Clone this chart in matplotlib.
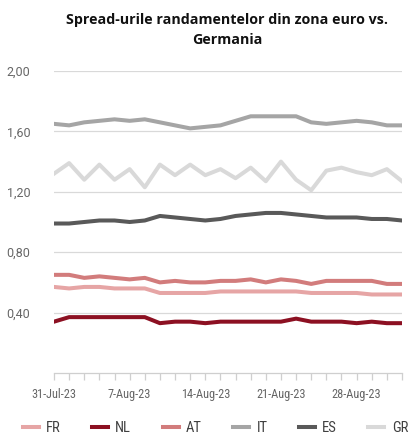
import matplotlib.pyplot as plt
import numpy as np

dates = ['31-Jul-23', '1-Aug-23', '2-Aug-23', '3-Aug-23', '4-Aug-23',
         '7-Aug-23', '8-Aug-23', '9-Aug-23', '10-Aug-23', '11-Aug-23',
         '14-Aug-23', '15-Aug-23', '16-Aug-23', '17-Aug-23', '18-Aug-23',
         '21-Aug-23', '22-Aug-23', '23-Aug-23', '24-Aug-23', '25-Aug-23',
         '28-Aug-23', '29-Aug-23', '30-Aug-23', '31-Aug-23']

fr = [0.57, 0.56, 0.57, 0.57, 0.56, 0.56, 0.56, 0.53, 0.53, 0.53, 0.53, 0.54,
      0.54, 0.54, 0.54, 0.54, 0.54, 0.53, 0.53, 0.53, 0.53, 0.52, 0.52, 0.52]
nl = [0.34, 0.37, 0.37, 0.37, 0.37, 0.37, 0.37, 0.33, 0.34, 0.34, 0.33, 0.34,
      0.34, 0.34, 0.34, 0.34, 0.36, 0.34, 0.34, 0.34, 0.33, 0.34, 0.33, 0.33]
at = [0.65, 0.65, 0.63, 0.64, 0.63, 0.62, 0.63, 0.60, 0.61, 0.60, 0.60, 0.61,
      0.61, 0.62, 0.60, 0.62, 0.61, 0.59, 0.61, 0.61, 0.61, 0.61, 0.59, 0.59]
it = [1.65, 1.64, 1.66, 1.67, 1.68, 1.67, 1.68, 1.66, 1.64, 1.62, 1.63, 1.64,
      1.67, 1.70, 1.70, 1.70, 1.70, 1.66, 1.65, 1.66, 1.67, 1.66, 1.64, 1.64]
es = [0.99, 0.99, 1.00, 1.01, 1.01, 1.00, 1.01, 1.04, 1.03, 1.02, 1.01, 1.02,
      1.04, 1.05, 1.06, 1.06, 1.05, 1.04, 1.03, 1.03, 1.03, 1.02, 1.02, 1.01]
gr = [1.32, 1.39, 1.28, 1.38, 1.28, 1.35, 1.23, 1.38, 1.31, 1.38, 1.31, 1.35,
      1.29, 1.36, 1.27, 1.40, 1.28, 1.21, 1.34, 1.36, 1.33, 1.31, 1.35, 1.27]

series = [('FR', fr, '#e6a5a5'), ('NL', nl, '#8c1022'), ('AT', at, '#d27c7c'),
          ('IT', it, '#a5a5a5'), ('ES', es, '#595959'), ('GR', gr, '#d9d9d9')]

narrow = ['Liberation Sans Narrow', 'Roboto Condensed', 'Roboto']

fig = plt.figure(figsize=(4.11, 4.36), dpi=100)
ax = fig.add_axes([54 / 411, 1 - 373 / 436, 348 / 411, 302 / 436])

x = np.arange(len(dates))
for name, vals, col in series:
    ax.plot(x, vals, color=col, lw=2.9, label=name, solid_joinstyle='round')

ax.set_xlim(0, len(dates) - 1)
ax.set_ylim(0, 2.0)
ax.set_yticks([0.4, 0.8, 1.2, 1.6, 2.0])
ax.set_yticklabels(['0,40', '0,80', '1,20', '1,60', '2,00'], family='Roboto')
ax.grid(axis='y', color='#d9d9d9', lw=0.9)
ax.set_axisbelow(True)
ax.tick_params(axis='y', length=0, pad=17, labelsize=9, labelcolor='#666666')

ax.set_xticks(x, minor=True)
ax.set_xticks(x[::5])
ax.set_xticklabels([dates[i] for i in x[::5]], family=narrow)
ax.tick_params(axis='x', which='both', length=5, color='#cfcfcf', width=0.9)
ax.tick_params(axis='x', labelsize=8.8, labelcolor='#666666', pad=6)

for s in ['top', 'right', 'left']:
    ax.spines[s].set_visible(False)
ax.spines['bottom'].set_color('#cfcfcf')
ax.spines['bottom'].set_linewidth(0.9)

fig.text(0.553, 0.97, 'Spread-urile randamentelor din zona euro vs.\nGermania',
         ha='center', va='top', fontsize=10.3, fontweight='bold', family='Open Sans',
         linespacing=1.55, color='#111111')

leg = fig.legend(loc='center', bbox_to_anchor=(0.524, 0.018), ncol=6, frameon=False,
                 handlelength=1.1, columnspacing=2.15, handletextpad=0.5,
                 prop={'family': narrow, 'size': 10.5})
for t in leg.get_texts():
    t.set_color('#404040')

fig.savefig('out.png', dpi=100)
